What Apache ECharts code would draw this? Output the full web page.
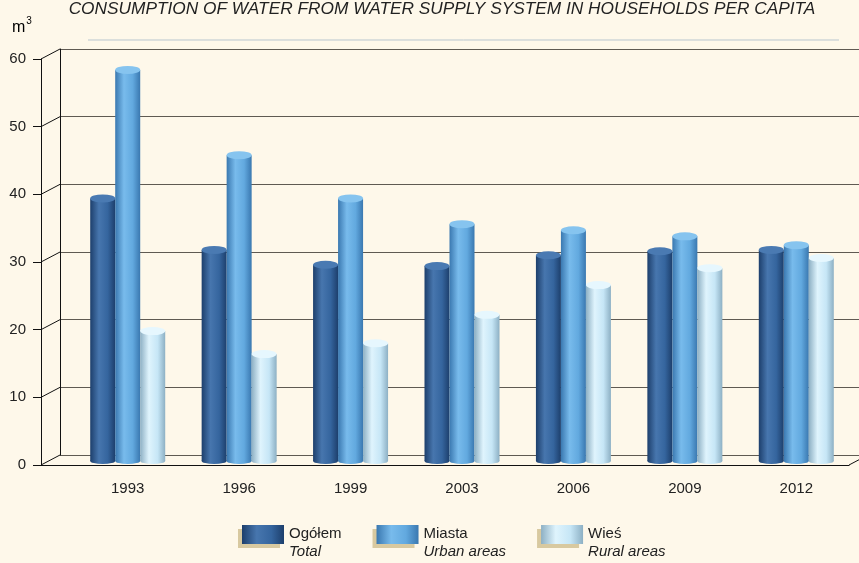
<!DOCTYPE html>
<html>
<head>
<meta charset="utf-8">
<script src="https://cdn.jsdelivr.net/npm/echarts@6/dist/echarts.min.js"></script>
<style>
  html, body { margin: 0; padding: 0; background: #fef8ea; }
  #main { width: 859px; height: 563px; }
</style>
</head>
<body>
<div id="main"></div>
<script>
// data
const years = ['1993', '1996', '1999', '2003', '2006', '2009', '2012'];
const total = [38.8, 31.2, 29, 28.8, 30.4, 31, 31.2];
const urban = [57.8, 45.2, 38.8, 35, 34.1, 33.2, 31.9];
const rural = [19.2, 15.8, 17.4, 21.6, 26, 28.5, 30];
const yTicks = [0, 10, 20, 30, 40, 50, 60];
const names = [['Ogółem', 'Total'], ['Miasta', 'Urban areas'], ['Wieś', 'Rural areas']];

const FONT = "'Liberation Sans', Arial, sans-serif";

/* cylinder-like fills */
function cyl (edge, mid, light) {
  return new echarts.graphic.LinearGradient(0, 0, 1, 0, [
    { offset: 0, color: edge },
    { offset: 0.35, color: light },
    { offset: 0.7, color: mid },
    { offset: 1, color: edge }
  ]);
}
const fills = [
  cyl('#1d3f6c', '#35659e', '#4776ae'),
  cyl('#3a78b0', '#62a9df', '#78bbec'),
  cyl('#8db0c4', '#c6e6f6', '#dff4fd')
];
const tops = ['#4a7ab2', '#86c4ef', '#e6f7fe'];
const BW = 25;

const chart = echarts.init(document.getElementById('main'));

const bars = [total, urban, rural].map((d, i) => ({
  name: names[i][0],
  type: 'bar',
  xAxisIndex: 2,
  yAxisIndex: 2,
  barWidth: BW,
  barGap: '0%',
  z: 3,
  itemStyle: { color: fills[i] },
  data: d
}));
const caps = [total, urban, rural].map((d, i) => ({
  type: 'pictorialBar',
  xAxisIndex: 2,
  yAxisIndex: 2,
  symbol: 'circle',
  symbolSize: [BW, 8],
  symbolPosition: 'end',
  symbolOffset: [(i - 1) * BW, '-50%'],
  z: 4,
  silent: true,
  itemStyle: { color: tops[i] },
  data: d
}));
const bottoms = [total, urban, rural].map((d, i) => ({
  type: 'pictorialBar',
  xAxisIndex: 2,
  yAxisIndex: 2,
  symbol: 'circle',
  symbolSize: [BW, 6],
  symbolPosition: 'start',
  symbolOffset: [(i - 1) * BW, '50%'],
  z: 2,
  silent: true,
  itemStyle: { color: fills[i] },
  data: d
}));

/* 3D diagonals between the front axis and the back wall */
const diagonals = {
  type: 'custom',
  xAxisIndex: 1,
  yAxisIndex: 1,
  silent: true,
  z: 1,
  data: yTicks.map(v => [0, v]),
  renderItem: function (params, api) {
    const cs = params.coordSys;
    const v = api.value(1);
    const y = api.coord([0, v])[1];
    const items = [{
      type: 'line',
      shape: { x1: cs.x, y1: y, x2: cs.x + 19, y2: y - 10 },
      style: { stroke: '#111', lineWidth: 1 }
    }];
    if (v === 0) {
      items.push({
        type: 'line',
        shape: { x1: cs.x + cs.width, y1: y, x2: cs.x + cs.width + 19, y2: y - 10 },
        style: { stroke: '#111', lineWidth: 1 }
      });
    }
    return { type: 'group', children: items };
  }
};

chart.setOption({
  backgroundColor: '#fef8ea',
  animation: false,
  title: {
    text: 'CONSUMPTION OF WATER FROM WATER SUPPLY SYSTEM IN HOUSEHOLDS PER CAPITA',
    left: 437,
    textAlign: 'center',
    top: -4,
    textStyle: { fontFamily: FONT, fontStyle: 'italic', fontWeight: 'normal', fontSize: 17.3, color: '#222' }
  },
  graphic: [
    {
      type: 'text', left: 12, top: 16,
      style: {
        text: '{m|m}{s|3}',
        rich: {
          m: { fontFamily: FONT, fontSize: 16, color: '#222', verticalAlign: 'bottom' },
          s: { fontFamily: FONT, fontSize: 10, color: '#222', verticalAlign: 'top', padding: [0, 0, 10, 1] }
        }
      }
    },
    { type: 'line', shape: { x1: 88, y1: 40, x2: 839, y2: 40 }, style: { stroke: '#b9c6cf', lineWidth: 1 } }
  ],
  legend: {
    bottom: -3,
    left: 237,
    itemWidth: 42,
    itemHeight: 36,
    itemGap: 35,
    // swatch sits beside the first text line only
    icon: 'path://M0,0L42,0L42,19L0,19Z M0,36L0.01,36L0.01,35.99Z',
    align: 'left',
    itemStyle: { shadowColor: '#d8c9a0', shadowOffsetX: -4, shadowOffsetY: 4, shadowBlur: 0 },
    formatter: function (n) {
      const p = names.find(x => x[0] === n);
      return '{a|' + p[0] + '}\n{b|' + p[1] + '}';
    },
    textStyle: {
      rich: {
        a: { fontFamily: FONT, fontSize: 15, color: '#222', lineHeight: 18 },
        b: { fontFamily: FONT, fontSize: 15, fontStyle: 'italic', color: '#222', lineHeight: 18 }
      }
    },
    data: names.map(n => n[0])
  },
  grid: [
    { left: 60, right: 0, top: 49, bottom: 108 },   // back wall
    { left: 41, right: 10, top: 59, bottom: 98 },   // front axis
    { left: 72, right: 7, top: 55, bottom: 102 }    // bars
  ],
  xAxis: [
    { gridIndex: 0, type: 'category', data: years, show: false },
    { gridIndex: 1, type: 'category', data: years,
      axisLine: { lineStyle: { color: '#111' } }, axisTick: { show: false }, axisLabel: { show: false } },
    { gridIndex: 2, type: 'category', data: years,
      axisLine: { show: false }, axisTick: { show: false },
      axisLabel: { margin: 20, fontFamily: FONT, fontSize: 15, color: '#222' } }
  ],
  yAxis: [
    { gridIndex: 0, type: 'value', min: 0, max: 60, interval: 10,
      axisLine: { show: true, lineStyle: { color: '#111' } }, axisTick: { show: false }, axisLabel: { show: false },
      splitLine: { lineStyle: { color: '#5f5a52', width: 1.2 } } },
    { gridIndex: 1, type: 'value', min: 0, max: 60, interval: 10,
      axisLine: { show: true, lineStyle: { color: '#111' } },
      axisTick: { show: true, length: 8, lineStyle: { color: '#111' } },
      axisLabel: { margin: 15, fontFamily: FONT, fontSize: 15, color: '#222' },
      splitLine: { show: false } },
    { gridIndex: 2, type: 'value', min: 0, max: 60, show: false, splitLine: { show: false } }
  ],
  series: [diagonals].concat(bottoms, bars, caps)
});
</script>
</body>
</html>
